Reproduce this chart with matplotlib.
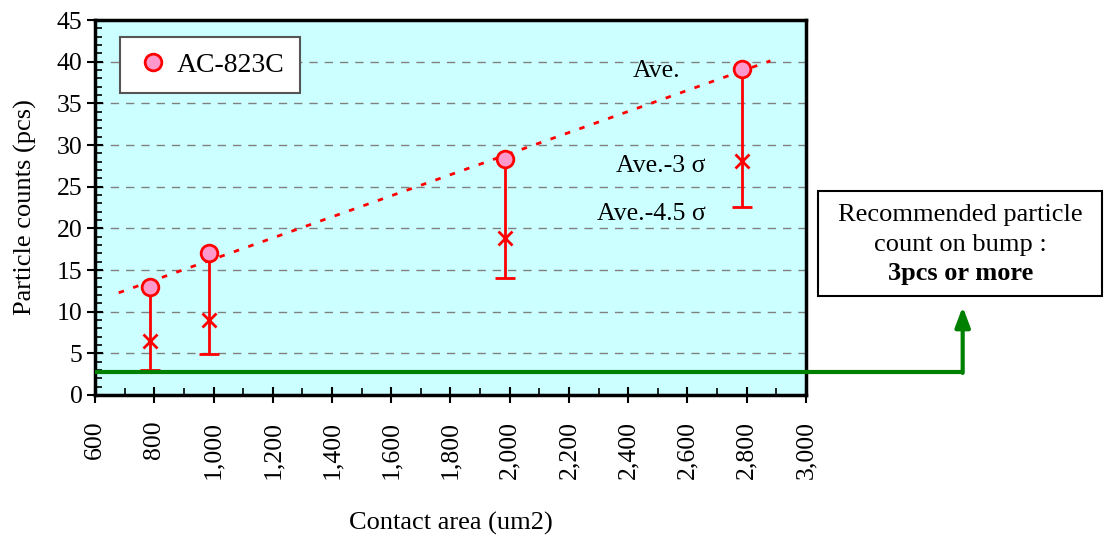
import matplotlib
matplotlib.use("Agg")
import matplotlib.pyplot as plt
from matplotlib.ticker import MultipleLocator, FuncFormatter
from matplotlib.patches import Rectangle
import numpy as np

plt.rcParams['font.family'] = ['Liberation Serif', 'DejaVu Serif']

# data
area = [785, 985, 1985, 2785]
ave = [13.0, 17.0, 28.3, 39.1]
ave_3s = [6.5, 9.0, 18.8, 28.1]
ave_45s = [3.0, 4.9, 14.0, 22.6]
threshold = 2.8
trend_range = [680, 2880]

fig = plt.figure(figsize=(11.1, 5.38), dpi=100)
ax = fig.add_axes([0.0856, 0.2658, 0.6405, 0.697])
ax.set_facecolor('#CCFFFF')

# trend of averages
k, b = np.polyfit(area, ave, 1)
xs = np.array(trend_range)
ax.plot(xs, k * xs + b, color='red', lw=2, linestyle=(0, (2, 3.5)), zorder=3)

# error bars down to Ave.-4.5 sigma
ax.vlines(area, ave_45s, ave, color='red', lw=2, zorder=3)
ax.plot(area, ave_45s, linestyle='none', marker='_', markersize=14,
        markeredgewidth=2, color='red', zorder=3)
ax.plot(area, ave_3s, linestyle='none', marker='x', markersize=10,
        markeredgewidth=2, color='red', zorder=4)
ax.plot(area, ave, linestyle='none', marker='o', markersize=12,
        markerfacecolor='#FF99CC', markeredgecolor='red', markeredgewidth=2,
        zorder=5, label='AC-823C')

# threshold line and arrow to the note box
ax.plot([600, 3529], [threshold, threshold], color='green', lw=3,
        clip_on=False, zorder=6, solid_capstyle='butt')
ax.annotate('', xy=(3529, 10.6), xytext=(3529, threshold - 0.15),
            arrowprops=dict(arrowstyle='-|>,head_width=0.45,head_length=1.2',
                            color='green', lw=3, shrinkA=0, shrinkB=0),
            annotation_clip=False, zorder=6)

fig.add_artist(Rectangle((0.737, 0.4498), 0.256, 0.1952, transform=fig.transFigure,
                         facecolor='white', edgecolor='black', lw=1.5))
fig.text(0.865, 0.601, 'Recommended particle', ha='center', va='center', fontsize=19)
fig.text(0.865, 0.545, 'count on bump :', ha='center', va='center', fontsize=19)
fig.text(0.865, 0.491, '3pcs or more', ha='center', va='center',
         fontsize=19, fontweight='bold')

ax.text(2575, 38.9, 'Ave.', ha='right', va='center', fontsize=18.5)
ax.text(2660, 27.5, 'Ave.-3 σ', ha='right', va='center', fontsize=18.5)
ax.text(2660, 21.7, 'Ave.-4.5 σ', ha='right', va='center', fontsize=18.5)

ax.set_xlim(600, 3000)
ax.set_ylim(0, 45)
ax.xaxis.set_major_locator(MultipleLocator(200))
ax.xaxis.set_minor_locator(MultipleLocator(100))
ax.yaxis.set_major_locator(MultipleLocator(5))
ax.yaxis.set_minor_locator(MultipleLocator(1))
ax.xaxis.set_major_formatter(FuncFormatter(lambda v, p: f'{int(v):,}'))
ax.tick_params(which='major', direction='inout', length=11, width=1.5,
               labelsize=18.5)
ax.tick_params(which='minor', direction='in', length=5, width=1.2)
ax.tick_params(axis='x', labelrotation=90, pad=13)
for s in ax.spines.values():
    s.set_linewidth(2.5)
ax.grid(axis='y', color='gray', linestyle=(0, (6, 5)), lw=1)
ax.set_axisbelow(True)

ax.set_xlabel('Contact area (um2)', fontsize=19, labelpad=24)
ax.set_ylabel('Particle counts (pcs)', fontsize=19, labelpad=14)

leg = ax.legend(loc='upper left', bbox_to_anchor=(0.035, 0.955), fontsize=20,
                fancybox=False, framealpha=1, edgecolor='#555555',
                handletextpad=0.2, borderpad=0.55, handlelength=1.3,
                borderaxespad=0)
leg.get_frame().set_linewidth(1.5)

fig.savefig('out.png', dpi=100)
